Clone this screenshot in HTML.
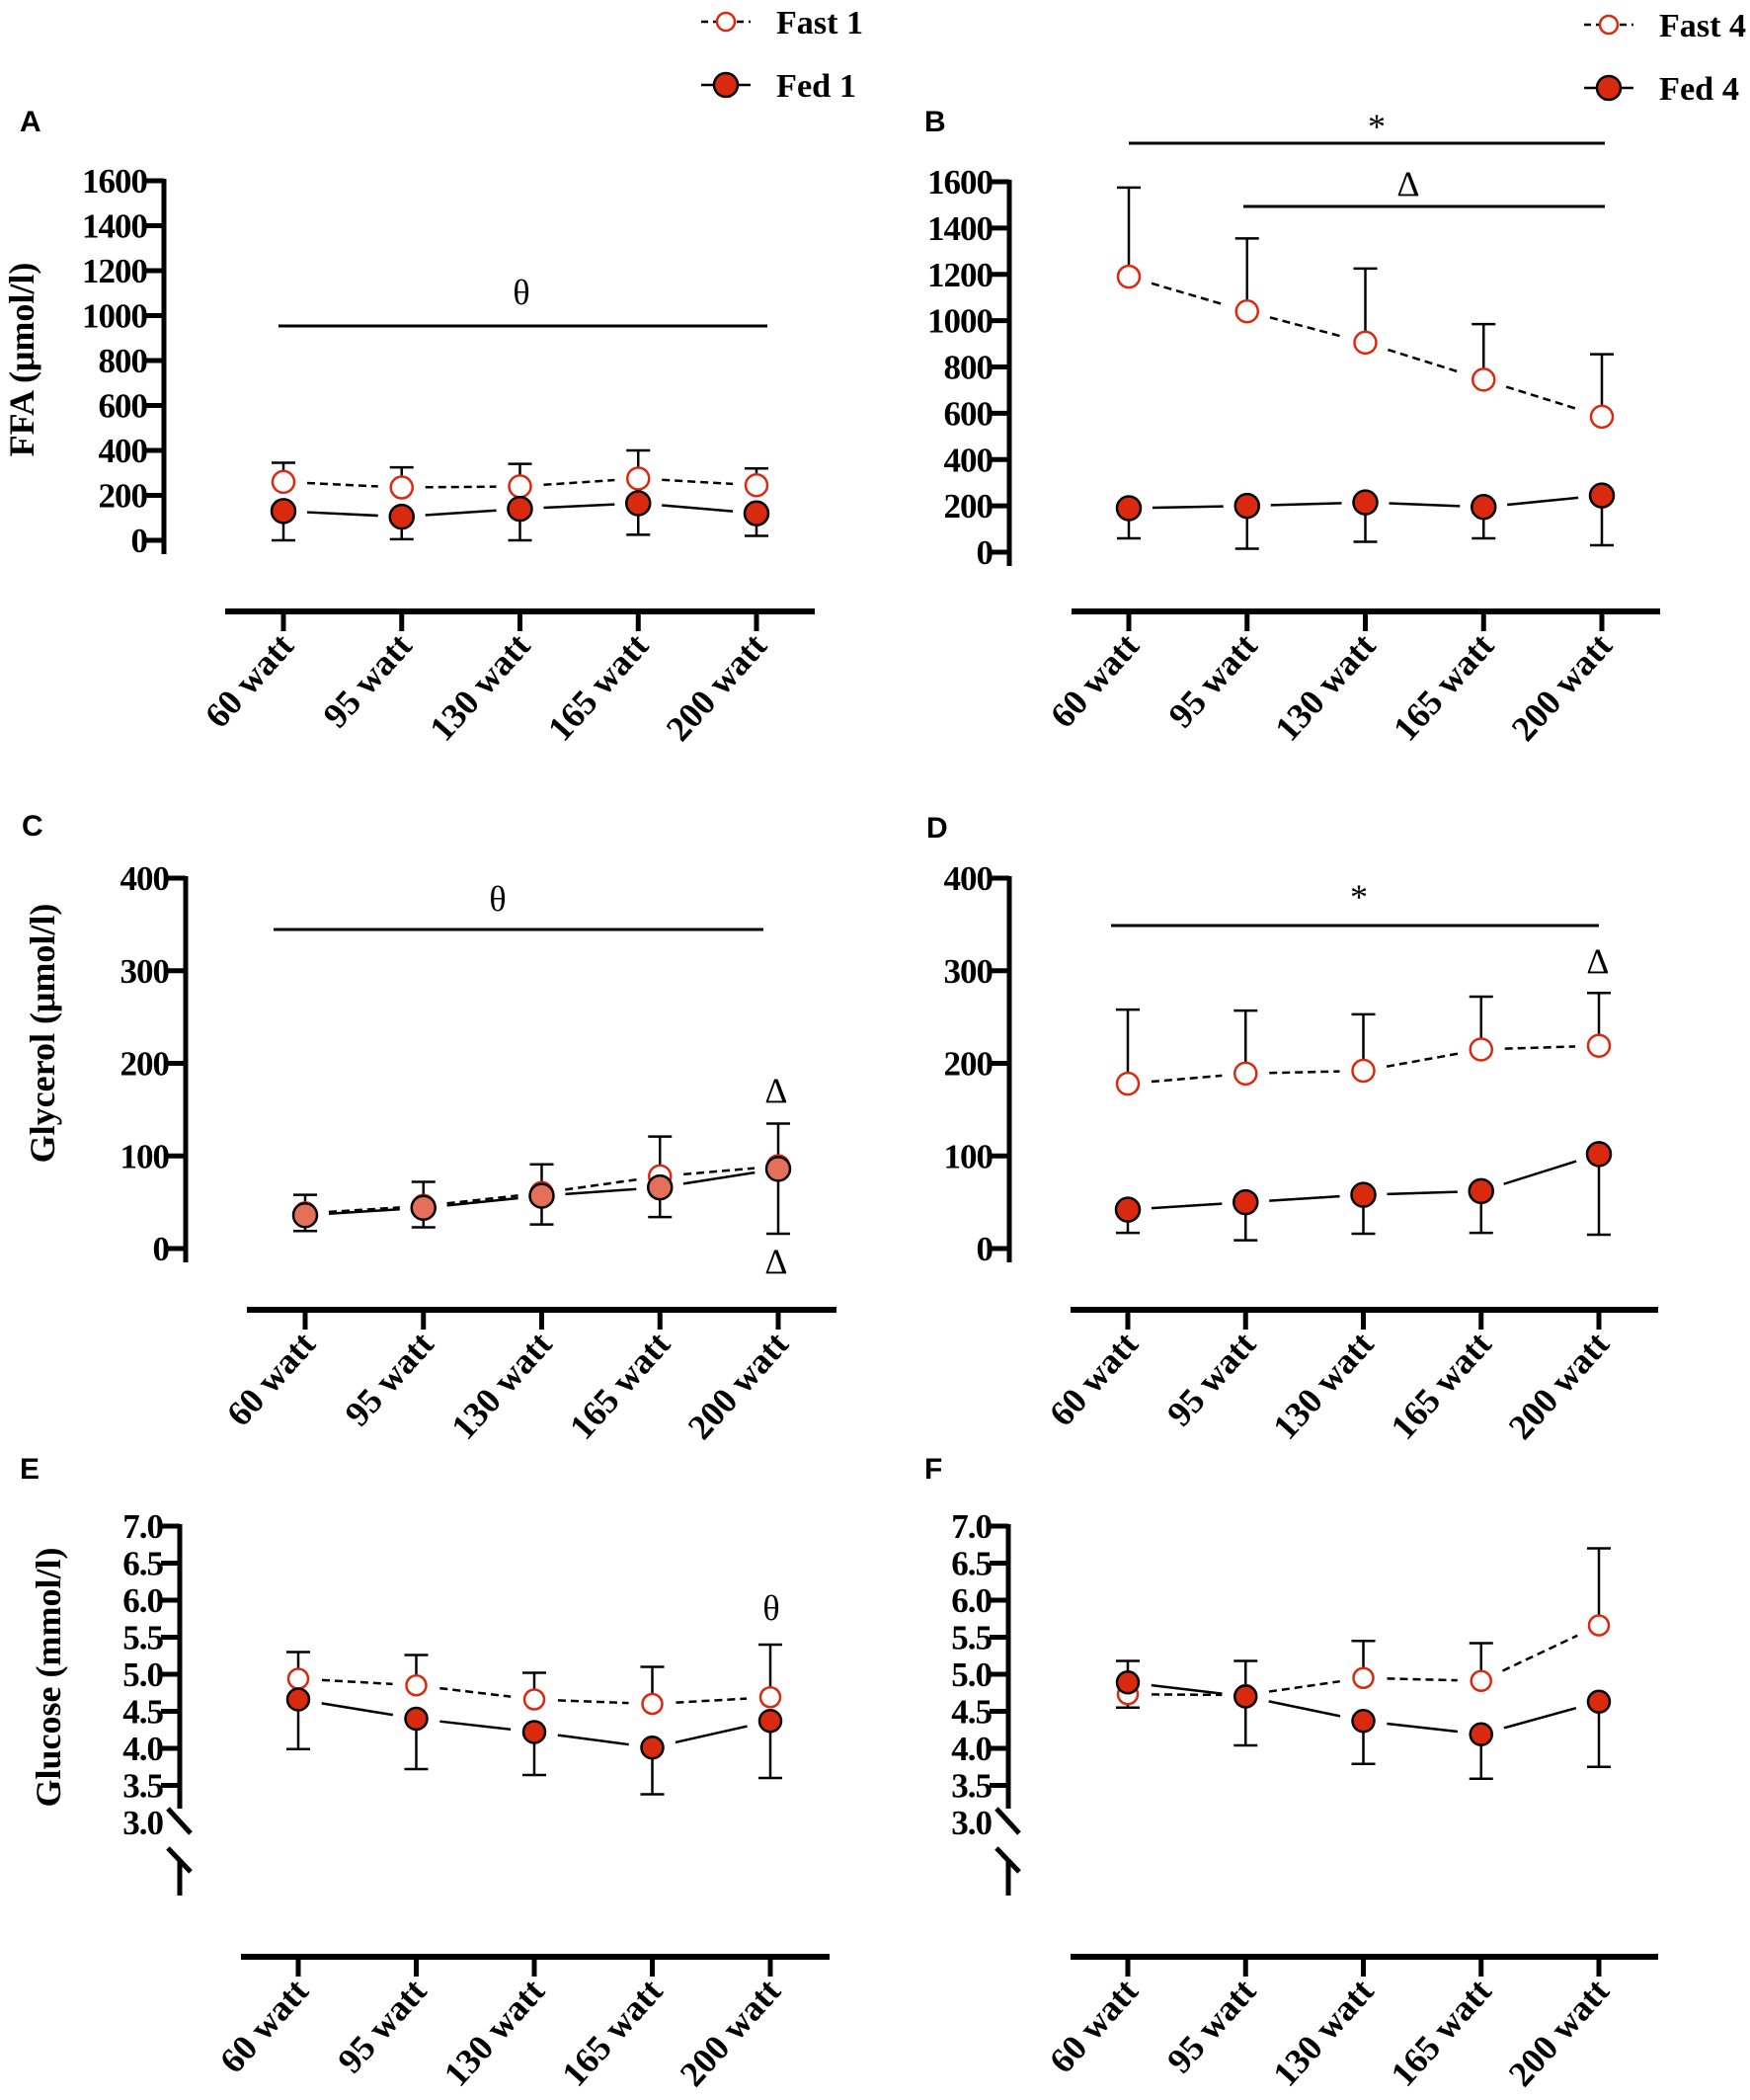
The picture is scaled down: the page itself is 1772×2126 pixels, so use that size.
<!DOCTYPE html>
<html><head><meta charset="utf-8"><style>
html,body{margin:0;padding:0;background:#fff;}
svg{display:block;}
text{font-family:"Liberation Serif",serif;font-weight:bold;fill:#000;}
.lett{font-family:"Liberation Sans",sans-serif;font-weight:bold;font-size:30px;}
</style></head><body>
<svg id="fig" width="1772" height="2126" viewBox="0 0 1772 2126" xmlns="http://www.w3.org/2000/svg">
</svg>
<script>
const categories = ["60 watt","95 watt","130 watt","165 watt","200 watt"];
const ticksFFA = [0,200,400,600,800,1000,1200,1400,1600];
const ticksGly = [0,100,200,300,400];
const ticksGlu = [3.0,3.5,4.0,4.5,5.0,5.5,6.0,6.5,7.0];
// Panel A
const fastA = [260,235,240,275,245];
const fastA_up = [345,325,340,400,320];
const fedA = [130,105,140,165,120];
const fedA_lo = [0,5,0,25,20];
// Panel B
const fastB = [1190,1040,905,745,585];
const fastB_up = [1575,1355,1225,985,855];
const fedB = [190,200,215,195,245];
const fedB_lo = [60,15,45,60,30];
// Panel C
const fastC = [38,46,60,78,89];
const fastC_up = [58,72,91,121,135];
const fedC = [36,44,57,66,86];
const fedC_lo = [19,23,26,34,16];
// Panel D
const fastD = [178,189,192,215,219];
const fastD_up = [258,257,253,272,276];
const fedD = [42,50,58,62,102];
const fedD_lo = [17,9,16,17,15];
// Panel E
const fastE = [4.94,4.85,4.66,4.60,4.69];
const fastE_up = [5.30,5.26,5.02,5.10,5.40];
const fedE = [4.66,4.40,4.22,4.01,4.37];
const fedE_lo = [3.99,3.72,3.64,3.38,3.60];
// Panel F
const fastF = [4.73,4.72,4.95,4.91,5.66];
const fastF_up = [5.18,5.18,5.45,5.42,6.70];
const fedF = [4.89,4.70,4.37,4.19,4.63];
const fedF_lo = [4.55,4.04,3.79,3.59,3.75];

const NS="http://www.w3.org/2000/svg";
const svg=document.getElementById('fig');
function mk(tag,attrs,parent,txt){const e=document.createElementNS(NS,tag);for(const k in attrs)e.setAttribute(k,attrs[k]);if(txt!==undefined)e.textContent=txt;(parent||svg).appendChild(e);return e;}

function panel(p){
  const g=mk('g',{});
  
  
  const y=v=>p.y0+(v-p.vmin)/(p.vmax-p.vmin)*(p.y1-p.y0);
  const x=i=>p.xs[0]+i*(p.xs[1]-p.xs[0])/4;
  const lt=mk('text',{x:p.lx,y:p.ly,class:'lett'},g,p.id);
  
  
  const ya=mk('g',{},g);
  
  
  const top=y(p.vmax);
  if(p.brk){
    mk('line',{x1:p.ax,y1:top-2,x2:p.ax,y2:1831,stroke:'#000','stroke-width':5},ya);
    mk('line',{x1:p.ax-12,y1:1831,x2:p.ax+11,y2:1856,stroke:'#000','stroke-width':5},ya);
    mk('line',{x1:p.ax-12,y1:1871,x2:p.ax+11,y2:1895,stroke:'#000','stroke-width':5},ya);
    mk('line',{x1:p.ax,y1:1882,x2:p.ax,y2:1919,stroke:'#000','stroke-width':5},ya);
  } else {
    mk('line',{x1:p.ax,y1:top-2,x2:p.ax,y2:y(p.vmin)+14,stroke:'#000','stroke-width':5},ya);
  }
  p.ticks.forEach((t,i)=>{
    const yy=y(t);
    if(!(p.brk&&i===0)) mk('line',{x1:p.ax-19,y1:yy,x2:p.ax,y2:yy,stroke:'#000','stroke-width':5},ya);
    const tl=mk('text',{x:p.ax-17,y:yy+12,'font-size':35,'text-anchor':'end','letter-spacing':'-1'},ya,p.brk?t.toFixed(1):String(t));
    
    
  });
  if(p.title){
    const tt=mk('text',{x:0,y:0,'font-size':36,'text-anchor':'middle',transform:`translate(${p.tx},${p.ty}) rotate(-90)`},g,p.title);
    
    
  }
  const xa=mk('g',{},g);
  
  
  mk('line',{x1:p.xl[0],y1:p.xay,x2:p.xl[1],y2:p.xay,stroke:'#000','stroke-width':6},xa);
  categories.forEach((c,i)=>{
    mk('line',{x1:x(i),y1:p.xay,x2:x(i),y2:p.xay+20,stroke:'#000','stroke-width':5},xa);
    const tl=mk('text',{x:0,y:0,'font-size':36,'text-anchor':'end',transform:`translate(${x(i)+12},${p.xay+36}) rotate(-48)`},xa,c);
    
    
  });
  function conn(vals,dash,name){
    const s=mk('g',{},g);
    
    
    for(let i=0;i<4;i++){
      const x1=x(i),y1=y(vals[i]),x2=x(i+1),y2=y(vals[i+1]);
      const L=Math.hypot(x2-x1,y2-y1),g0=24,ux=(x2-x1)/L,uy=(y2-y1)/L;
      const a={x1:x1+ux*g0,y1:y1+uy*g0,x2:x2-ux*g0,y2:y2-uy*g0,stroke:'#000','stroke-width':2.5};
      if(dash)a['stroke-dasharray']='8,5';
      mk('line',a,s);
    }
  }
  function err(vals,ends,name){
    const s=mk('g',{},g);
    
    
    vals.forEach((v,i)=>{
      mk('line',{x1:x(i),y1:y(v),x2:x(i),y2:y(ends[i]),stroke:'#000','stroke-width':2.5},s);
      mk('line',{x1:x(i)-12,y1:y(ends[i]),x2:x(i)+12,y2:y(ends[i]),stroke:'#000','stroke-width':2.5},s);
    });
  }
  conn(p.fast,true,'fast-line');
  conn(p.fed,false,'fed-line');
  err(p.fast,p.fastUp,'fast-error-bars');
  err(p.fed,p.fedLo,'fed-error-bars');
  const fm=mk('g',{},g);
  
  
  const dm=mk('g',{},g);
  
  
  p.fed.forEach((v,i)=>{
    const c=mk('circle',{cx:x(i),cy:y(v),r:p.r,fill:p.fedFill||'#d9290f',stroke:'#000','stroke-width':2.5},dm);
    
    
  });
  p.fast.forEach((v,i)=>{
    const c=mk('circle',{cx:x(i),cy:y(v),r:p.r-1,fill:'#fff',stroke:'#d9290f','stroke-width':2.5},fm);
    
    
  });
  if(p.fastBelow){ g.insertBefore(fm,dm); }
  (p.ann||[]).forEach(a=>{
    if(a.line){mk('line',{x1:a.line[0],y1:a.line[2],x2:a.line[1],y2:a.line[2],stroke:'#000','stroke-width':3},g);}
    const t=mk('text',{x:a.x,y:a.y,'font-size':36,'text-anchor':'middle',style:'font-weight:normal'},g,a.t);
    
    
  });
}

panel({id:'A',lx:20,ly:133,ax:166,vmin:0,vmax:1600,y0:547,y1:183,ticks:ticksFFA,title:'FFA (\u03bcmol/l)',tx:34,ty:364,
  xs:[287,766],xl:[228,825],xay:619,fast:fastA,fastUp:fastA_up,fed:fedA,fedLo:fedA_lo,r:12,
  ann:[{line:[282,777,330],t:'\u03b8',x:528,y:308}]});
panel({id:'B',lx:936,ly:133,ax:1022,vmin:0,vmax:1600,y0:559,y1:184,ticks:ticksFFA,
  xs:[1143,1622],xl:[1085,1681],xay:619,fast:fastB,fastUp:fastB_up,fed:fedB,fedLo:fedB_lo,r:12,
  ann:[{line:[1143,1625,145],t:'*',x:1394,y:140},{line:[1259,1625,209],t:'\u0394',x:1426,y:198}]});
panel({id:'C',lx:22,ly:846,ax:188,vmin:0,vmax:400,y0:1264,y1:889,ticks:ticksGly,title:'Glycerol (\u03bcmol/l)',tx:55,ty:1046,
  xs:[309,788],xl:[250,847],xay:1326,fast:fastC,fastUp:fastC_up,fed:fedC,fedLo:fedC_lo,r:12,fedFill:'#e4705a',fastBelow:true,
  ann:[{line:[277,773,941],t:'\u03b8',x:504,y:922},{t:'\u0394',x:786,y:1116},{t:'\u0394',x:786,y:1289}]});
panel({id:'D',lx:938,ly:848,ax:1022,vmin:0,vmax:400,y0:1264,y1:889,ticks:ticksGly,
  xs:[1142,1619],xl:[1084,1679],xay:1326,fast:fastD,fastUp:fastD_up,fed:fedD,fedLo:fedD_lo,r:12,
  ann:[{line:[1125,1619,937],t:'*',x:1376,y:920},{t:'\u0394',x:1618,y:985}]});
panel({id:'E',lx:20,ly:1497,ax:182,vmin:3,vmax:7,y0:1845,y1:1545,ticks:ticksGlu,title:'Glucose (mmol/l)',tx:61,ty:1698,brk:true,
  xs:[302,780],xl:[244,840],xay:1981,fast:fastE,fastUp:fastE_up,fed:fedE,fedLo:fedE_lo,r:11,
  ann:[{t:'\u03b8',x:781,y:1640}]});
panel({id:'F',lx:936,ly:1497,ax:1021,vmin:3,vmax:7,y0:1845,y1:1545,ticks:ticksGlu,brk:true,
  xs:[1142,1619],xl:[1084,1679],xay:1981,fast:fastF,fastUp:fastF_up,fed:fedF,fedLo:fedF_lo,r:11,fastBelow:true});

function legend(x0,items,name){
  const g=mk('g',{});
  
  
  items.forEach(it=>{
    const e=mk('g',{},g);
    
    
    const l={x1:x0-25,y1:it.y,x2:x0+25,y2:it.y,stroke:'#000','stroke-width':2.5};
    if(it.dash)l['stroke-dasharray']='7,5';
    mk('line',l,e);
    if(it.dash) mk('circle',{cx:x0,cy:it.y,r:9,fill:'#fff',stroke:'#d9290f','stroke-width':2.5},e);
    else mk('circle',{cx:x0,cy:it.y,r:12,fill:'#d9290f',stroke:'#000','stroke-width':2.5},e);
    mk('text',{x:x0+51,y:it.y+12,'font-size':34,textLength:it.w,lengthAdjust:'spacingAndGlyphs'},e,it.t);
  });
}
legend(735,[{y:22,t:'Fast 1',dash:true,w:88},{y:86,t:'Fed 1',dash:false,w:81}],'legend-1');
legend(1629,[{y:25,t:'Fast 4',dash:true,w:88},{y:89,t:'Fed 4',dash:false,w:81}],'legend-4');
</script>
</body></html>
